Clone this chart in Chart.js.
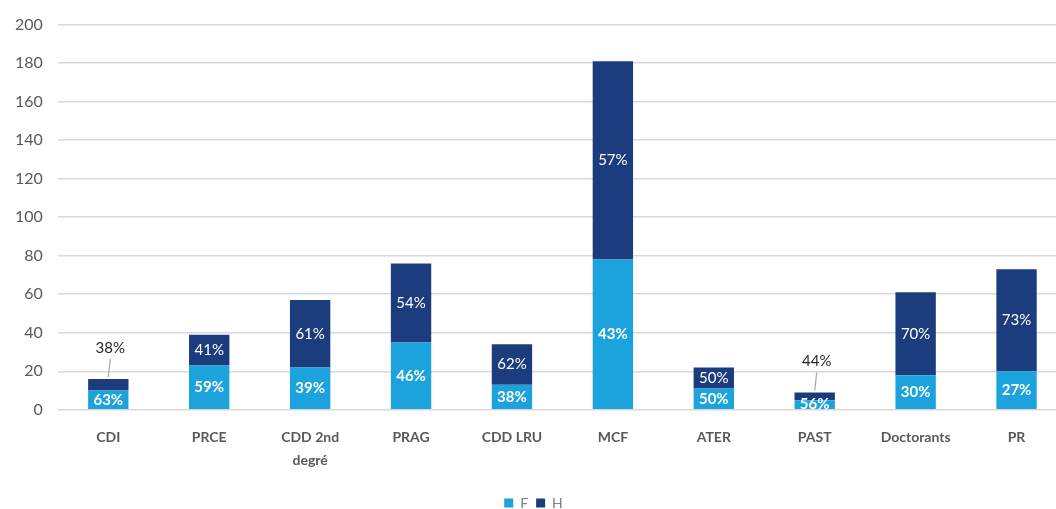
<!DOCTYPE html>
<html>
<head>
<meta charset="utf-8">
<script src="https://cdn.jsdelivr.net/npm/chart.js@4"></script>
<style>
  html, body { margin: 0; padding: 0; background: #fff; overflow: hidden; }
  #wrap { width: 1070px; height: 509px; }
</style>
</head>
<body>
<div id="wrap"><canvas id="chart" width="1070" height="509"></canvas></div>
<script>
const categories = ['CDI', 'PRCE', ['CDD 2nd', 'degré'], 'PRAG', 'CDD LRU', 'MCF', 'ATER', 'PAST', 'Doctorants', 'PR'];
const femmes = [10, 23, 22, 35, 13, 78, 11, 5, 18, 20];
const hommes = [6, 16, 35, 41, 21, 103, 11, 4, 43, 53];
const yTicks = [0, 20, 40, 60, 80, 100, 120, 140, 160, 180, 200];

const colorF = '#1ca3dd';
const colorH = '#1b3c7d';

// percentage labels drawn inside each segment (outside with a leader line when too thin)
const pctLabels = {
  id: 'pctLabels',
  afterDatasetsDraw(chart) {
    const ctx = chart.ctx;
    const sets = chart.data.datasets;
    ctx.save();
    ctx.textAlign = 'center';
    ctx.textBaseline = 'middle';
    sets.forEach((ds, di) => {
      const meta = chart.getDatasetMeta(di);
      meta.data.forEach((bar, i) => {
        const total = sets.reduce((s, d) => s + d.data[i], 0);
        const pct = Math.round(ds.data[i] / total * 100) + '%';
        const { x, y, base } = bar.getProps(['x', 'y', 'base'], true);
        const h = Math.abs(base - y);
        if (di === 1 && h < 16) {
          ctx.strokeStyle = '#a6a6a6';
          ctx.lineWidth = 1.2;
          ctx.beginPath();
          ctx.moveTo(x + 2, y - 20);
          ctx.lineTo(x, y - 2);
          ctx.stroke();
          ctx.fillStyle = '#262626';
          ctx.font = '15px Lato';
          ctx.fillText(pct, x + 2, y - 31);
        } else {
          ctx.fillStyle = '#ffffff';
          ctx.font = (di === 0 ? 'bold ' : '') + '15px Lato';
          ctx.fillText(pct, x, (y + base) / 2);
        }
      });
    });
    ctx.restore();
  }
};

new Chart(document.getElementById('chart'), {
  type: 'bar',
  data: {
    labels: categories,
    datasets: [
      { label: 'F', data: femmes, backgroundColor: colorF, categoryPercentage: 1, barPercentage: 0.4 },
      { label: 'H', data: hommes, backgroundColor: colorH, categoryPercentage: 1, barPercentage: 0.4 }
    ]
  },
  options: {
    responsive: false,
    animation: false,
    layout: { padding: { top: 5, right: 3, left: 0, bottom: -11 } },
    scales: {
      x: {
        stacked: true,
        grid: { display: false, drawTicks: false },
        border: { display: false },
        ticks: {
          color: '#595959',
          font: { family: 'Lato', size: 14, weight: 'bold', lineHeight: 1.65 },
          padding: 16,
          maxRotation: 0,
          autoSkip: false
        }
      },
      y: {
        stacked: true,
        min: 0,
        max: 200,
        afterBuildTicks: (axis) => { axis.ticks = yTicks.map(v => ({ value: v })); },
        grid: { color: '#d9d9d9', lineWidth: 1.5, drawTicks: false },
        border: { display: false },
        ticks: {
          color: '#595959',
          font: { family: 'Lato', size: 16 },
          padding: 15
        }
      }
    },
    plugins: {
      legend: {
        position: 'bottom',
        labels: {
          boxWidth: 9,
          boxHeight: 9,
          color: '#7f7f7f',
          font: { family: 'Lato', size: 14 },
          padding: 8
        }
      },
      tooltip: { enabled: false }
    }
  },
  plugins: [pctLabels]
});
</script>
</body>
</html>
